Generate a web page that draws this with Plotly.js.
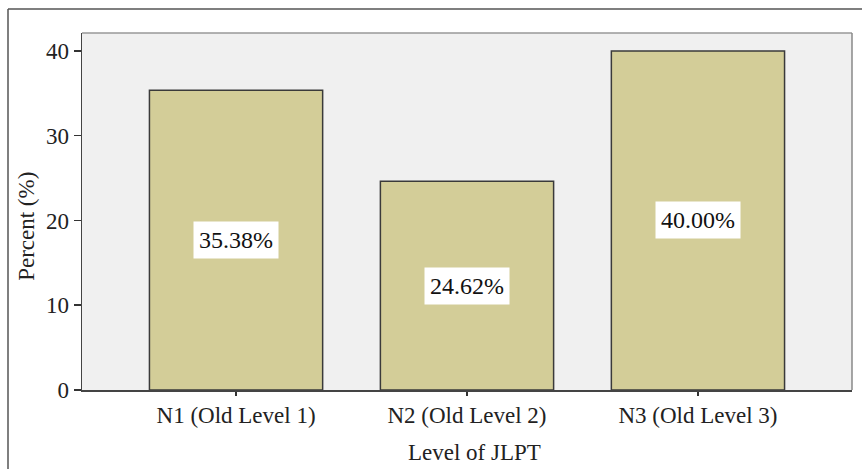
<!DOCTYPE html>
<html>
<head>
<meta charset="utf-8">
<script src="https://cdn.plot.ly/plotly-3.0.1.min.js"></script>
<style>html,body{margin:0;padding:0;background:#fff;}#chart{width:862px;height:469px;}</style>
</head>
<body>
<div id="chart"></div>
<script>
var categories = ["N1 (Old Level 1)", "N2 (Old Level 2)", "N3 (Old Level 3)"];
var percents = [35.38, 24.62, 40.00];
var labels = ["35.38%", "24.62%", "40.00%"];
var xTitle = "Level of JLPT";
var yTitle = "Percent (%)";

var FONT = "Liberation Serif";

var trace = {
  type: "bar",
  x: [0, 1, 2],
  y: percents,
  width: 0.75,
  marker: {color: "#d3cd98", line: {color: "#3a3a3a", width: 1.5}},
  hoverinfo: "none"
};

var annotations = percents.map(function (v, i) {
  return {
    x: i, y: v / 2, xref: "x", yref: "y",
    text: labels[i], showarrow: false,
    font: {family: FONT, size: 24, color: "#111"},
    bgcolor: "#ffffff", borderpad: 5
  };
});
annotations.push({
  xref: "paper", yref: "paper", x: 0.51, y: -0.174, xanchor: "center", yanchor: "middle",
  text: xTitle, showarrow: false, font: {family: FONT, size: 23, color: "#222"}
});
annotations.push({
  xref: "paper", yref: "paper", x: -0.0714, y: 0.457, xanchor: "center", yanchor: "middle",
  text: yTitle, textangle: -90, showarrow: false, font: {family: FONT, size: 23, color: "#222"}
});

var shapes = [
  {type: "line", xref: "paper", yref: "paper", x0: -0.0961, x1: -0.0961, y0: 1.067, y1: -0.25, line: {color: "#555", width: 1.5}},
  {type: "line", xref: "paper", yref: "paper", x0: -0.0961, x1: 1.02, y0: 1.067, y1: 1.067, line: {color: "#555", width: 1.5}},
  {type: "line", xref: "paper", yref: "paper", x0: 0, x1: 1, y0: 1, y1: 1, line: {color: "#999", width: 1.5}},
  {type: "line", xref: "paper", yref: "paper", x0: 1, x1: 1, y0: 0, y1: 1, line: {color: "#888", width: 1.5}}
];

var layout = {
  width: 862, height: 469,
  margin: {l: 82, r: 10, t: 33, b: 79},
  paper_bgcolor: "#ffffff",
  plot_bgcolor: "#f0f0f0",
  showlegend: false,
  font: {family: FONT, size: 23, color: "#222"},
  xaxis: {
    range: [-0.667, 2.667],
    tickvals: [0, 1, 2], ticktext: categories,
    ticks: "outside", ticklen: 4, tickcolor: "#333", tickwidth: 1.5,
    showline: true, linecolor: "#444", linewidth: 1.5,
    showgrid: false, zeroline: false,
    tickfont: {family: FONT, size: 23, color: "#222"}
  },
  yaxis: {
    range: [0, 42.12],
    tickvals: [0, 10, 20, 30, 40],
    ticks: "outside", ticklen: 7, tickcolor: "#333", tickwidth: 1.5,
    showline: true, linecolor: "#444", linewidth: 1.5,
    showgrid: false, zeroline: false,
    tickfont: {family: FONT, size: 23, color: "#222"}
  },
  annotations: annotations,
  shapes: shapes
};

Plotly.newPlot("chart", [trace], layout, {displayModeBar: false, staticPlot: true});
</script>
</body>
</html>
